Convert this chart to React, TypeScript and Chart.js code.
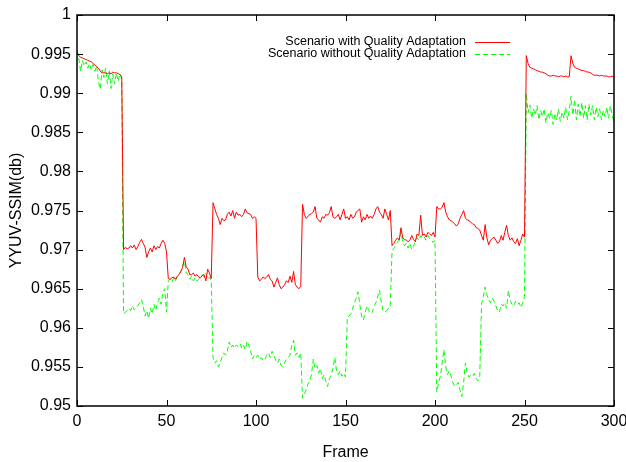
import { useEffect, useRef } from 'react';
import Chart from 'chart.js/auto';

const FONT = '"Liberation Sans", Arial, Helvetica, sans-serif';

const X_TICKS = [0, 50, 100, 150, 200, 250, 300];
const Y_MIN = 0.95;
const Y_MAX = 1;
const Y_STEP = 0.005;
const X_TITLE = 'Frame';
const Y_TITLE = 'YYUV-SSIM(db)';

const LABEL_WITH = 'Scenario with Quality Adaptation';
const LABEL_WITHOUT = 'Scenario without Quality Adaptation';

const FRAME_COUNT = 301;

const WITH_QA = [
  0.9952, 0.9948, 0.9946, 0.9945, 0.9944, 0.9943, 0.9942, 0.9941, 0.9940, 0.9938,
  0.9936, 0.9934, 0.9932, 0.9928, 0.9926, 0.9926, 0.9926, 0.9925, 0.9926, 0.9925,
  0.9927, 0.9926, 0.9926, 0.9925, 0.9924, 0.9921, 0.9700, 0.9703, 0.9701, 0.9702,
  0.9705, 0.9702, 0.9706, 0.9700, 0.9704, 0.9709, 0.9713, 0.9708, 0.9703, 0.9690,
  0.9697, 0.9702, 0.9697, 0.9705, 0.9700, 0.9704, 0.9702, 0.9708, 0.9712, 0.9708,
  0.9697, 0.9663, 0.9662, 0.9664, 0.9665, 0.9662, 0.9666, 0.9668, 0.9672, 0.9677,
  0.9690, 0.9678, 0.9675, 0.9668, 0.9668, 0.9670, 0.9666, 0.9668, 0.9665, 0.9664,
  0.9667, 0.9668, 0.9660, 0.9675, 0.9670, 0.9663, 0.9760, 0.9752, 0.9745, 0.9740,
  0.9732, 0.9740, 0.9737, 0.9738, 0.9745, 0.9748, 0.9743, 0.9750, 0.9740, 0.9748,
  0.9744, 0.9745, 0.9742, 0.9745, 0.9752, 0.9747, 0.9746, 0.9745, 0.9740, 0.9742,
  0.9740, 0.9665, 0.9660, 0.9662, 0.9665, 0.9663, 0.9665, 0.9668, 0.9662, 0.9660,
  0.9652, 0.9658, 0.9664, 0.9655, 0.9650, 0.9652, 0.9655, 0.9660, 0.9658, 0.9666,
  0.9658, 0.9672, 0.9655, 0.9652, 0.9650, 0.9653, 0.9758, 0.9745, 0.9740, 0.9742,
  0.9745, 0.9746, 0.9748, 0.9755, 0.9740, 0.9738, 0.9735, 0.9742, 0.9740, 0.9745,
  0.9744, 0.9747, 0.9755, 0.9742, 0.9740, 0.9742, 0.9745, 0.9738, 0.9745, 0.9752,
  0.9740, 0.9742, 0.9738, 0.9745, 0.9740, 0.9742, 0.9748, 0.9750, 0.9752, 0.9735,
  0.9742, 0.9738, 0.9745, 0.9740, 0.9743, 0.9740, 0.9745, 0.9752, 0.9755, 0.9748,
  0.9745, 0.9740, 0.9752, 0.9745, 0.9738, 0.9750, 0.9705, 0.9708, 0.9712, 0.9715,
  0.9712, 0.9728, 0.9715, 0.9713, 0.9712, 0.9710, 0.9712, 0.9718, 0.9713, 0.9710,
  0.9720, 0.9718, 0.9744, 0.9718, 0.9720, 0.9716, 0.9722, 0.9720, 0.9718, 0.9722,
  0.9716, 0.9755, 0.9752, 0.9752, 0.9754, 0.9760, 0.9748, 0.9742, 0.9738, 0.9737,
  0.9735, 0.9733, 0.9730, 0.9733, 0.9740, 0.9745, 0.9750, 0.9740, 0.9738, 0.9737,
  0.9735, 0.9733, 0.9732, 0.9728, 0.9727, 0.9725, 0.9718, 0.9712, 0.9732, 0.9715,
  0.9706, 0.9712, 0.9714, 0.9716, 0.9712, 0.9708, 0.9710, 0.9718, 0.9712, 0.9722,
  0.9731, 0.9718, 0.9712, 0.9715, 0.9710, 0.9708, 0.9714, 0.9705, 0.9712, 0.9720,
  0.9716, 0.9948, 0.9938, 0.9933, 0.9932, 0.9931, 0.9930, 0.9929, 0.9928, 0.9927,
  0.9927, 0.9926, 0.9925, 0.9923, 0.9922, 0.9922, 0.9923, 0.9922, 0.9922, 0.9921,
  0.9922, 0.9922, 0.9921, 0.9922, 0.9921, 0.9921, 0.9948, 0.9938, 0.9933, 0.9932,
  0.9931, 0.9930, 0.9929, 0.9929, 0.9928, 0.9927, 0.9927, 0.9926, 0.9924, 0.9923,
  0.9923, 0.9923, 0.9922, 0.9923, 0.9922, 0.9922, 0.9922, 0.9921, 0.9921, 0.9922, 0.9919,
];

const WITHOUT_QA = [
  0.9955, 0.9945, 0.9928, 0.9942, 0.9935, 0.9940, 0.9932, 0.9938, 0.9930, 0.9937,
  0.9928, 0.9935, 0.9915, 0.9905, 0.9930, 0.9920, 0.9932, 0.9912, 0.9928, 0.9906,
  0.9925, 0.9912, 0.9926, 0.9915, 0.9925, 0.9918, 0.9618, 0.9620, 0.9622, 0.9625,
  0.9622, 0.9628, 0.9623, 0.9625, 0.9628, 0.9632, 0.9636, 0.9628, 0.9615, 0.9622,
  0.9612, 0.9625, 0.9618, 0.9630, 0.9622, 0.9632, 0.9638, 0.9630, 0.9645, 0.9650,
  0.9620, 0.9660, 0.9662, 0.9658, 0.9664, 0.9660, 0.9665, 0.9668, 0.9672, 0.9680,
  0.9685, 0.9670, 0.9668, 0.9662, 0.9666, 0.9660, 0.9664, 0.9660, 0.9662, 0.9665,
  0.9668, 0.9665, 0.9670, 0.9662, 0.9665, 0.9660, 0.9562, 0.9555, 0.9558, 0.9550,
  0.9556, 0.9562, 0.9568, 0.9565, 0.9570, 0.9582, 0.9575, 0.9578, 0.9574, 0.9578,
  0.9576, 0.9580, 0.9574, 0.9578, 0.9572, 0.9583, 0.9578, 0.9570, 0.9560, 0.9565,
  0.9562, 0.9565, 0.9560, 0.9562, 0.9558, 0.9560, 0.9565, 0.9568, 0.9562, 0.9570,
  0.9565, 0.9558, 0.9555, 0.9560, 0.9552, 0.9550, 0.9556, 0.9560, 0.9562, 0.9565,
  0.9578, 0.9584, 0.9565, 0.9568, 0.9562, 0.9568, 0.9510, 0.9515, 0.9520, 0.9528,
  0.9532, 0.9540, 0.9560, 0.9548, 0.9552, 0.9542, 0.9548, 0.9535, 0.9540, 0.9532,
  0.9525, 0.9535, 0.9540, 0.9548, 0.9562, 0.9545, 0.9540, 0.9545, 0.9538, 0.9542,
  0.9537, 0.9613, 0.9615, 0.9618, 0.9625, 0.9632, 0.9638, 0.9646, 0.9630, 0.9615,
  0.9610, 0.9620, 0.9628, 0.9622, 0.9618, 0.9620, 0.9628, 0.9632, 0.9640, 0.9648,
  0.9632, 0.9621, 0.9620, 0.9622, 0.9625, 0.9628, 0.9698, 0.9702, 0.9705, 0.9710,
  0.9712, 0.9722, 0.9710, 0.9705, 0.9708, 0.9702, 0.9708, 0.9700, 0.9704, 0.9712,
  0.9715, 0.9712, 0.9718, 0.9714, 0.9716, 0.9712, 0.9718, 0.9714, 0.9712, 0.9709,
  0.9712, 0.9518, 0.9530, 0.9538, 0.9555, 0.9572, 0.9550, 0.9540, 0.9545, 0.9538,
  0.9530, 0.9525, 0.9528, 0.9530, 0.9520, 0.9512, 0.9530, 0.9555, 0.9542, 0.9537,
  0.9540, 0.9538, 0.9542, 0.9535, 0.9532, 0.9538, 0.9630, 0.9640, 0.9652, 0.9642,
  0.9636, 0.9632, 0.9638, 0.9634, 0.9628, 0.9622, 0.9620, 0.9630, 0.9628, 0.9632,
  0.9625, 0.9648, 0.9635, 0.9630, 0.9628, 0.9634, 0.9630, 0.9632, 0.9626, 0.9632,
  0.9640, 0.9900, 0.9875, 0.9885, 0.9868, 0.9880, 0.9872, 0.9884, 0.9866, 0.9878,
  0.9870, 0.9880, 0.9862, 0.9875, 0.9868, 0.9878, 0.9860, 0.9874, 0.9866, 0.9880,
  0.9864, 0.9876, 0.9868, 0.9882, 0.9866, 0.9878, 0.9896, 0.9872, 0.9892, 0.9866,
  0.9886, 0.9870, 0.9888, 0.9868, 0.9884, 0.9866, 0.9886, 0.9872, 0.9884, 0.9866,
  0.9882, 0.9870, 0.9880, 0.9866, 0.9878, 0.9870, 0.9882, 0.9868, 0.9884, 0.9872, 0.9862,
];

const FRAMES = Array.from({ length: FRAME_COUNT }, (_, i) => i);

const gnuplotFrame = {
  id: 'gnuplotFrame',
  afterDatasetsDraw(chart: any) {
    const { ctx, chartArea, scales } = chart;
    const { left, right, top, bottom } = chartArea;
    const line = (x1: number, y1: number, x2: number, y2: number) => {
      ctx.beginPath();
      ctx.moveTo(x1, y1);
      ctx.lineTo(x2, y2);
      ctx.stroke();
    };
    ctx.save();
    ctx.strokeStyle = '#000';
    ctx.setLineDash([]);
    ctx.lineWidth = 1;
    const tl = 6;
    scales.x.ticks.forEach((t: any) => {
      const px = Math.round(scales.x.getPixelForValue(t.value)) + 0.5;
      line(px, bottom, px, bottom - tl);
      line(px, top, px, top + tl);
    });
    scales.y.ticks.forEach((t: any) => {
      const py = Math.round(scales.y.getPixelForValue(t.value)) + 0.5;
      line(left, py, left + tl, py);
      line(right, py, right - tl, py);
    });
    ctx.lineWidth = 1.5;
    ctx.strokeRect(left, top, right - left, bottom - top);

    // y axis title, centred on the plot area
    ctx.save();
    ctx.translate(17, (top + bottom) / 2);
    ctx.rotate(-Math.PI / 2);
    ctx.font = '16px ' + FONT;
    ctx.textAlign = 'center';
    ctx.textBaseline = 'middle';
    ctx.fillStyle = '#000';
    ctx.fillText(Y_TITLE, 0, 0);
    ctx.restore();

    // key (legend), gnuplot style
    ctx.font = '12.5px ' + FONT;
    ctx.textAlign = 'right';
    ctx.textBaseline = 'middle';
    ctx.fillStyle = '#000';
    chart.data.datasets.forEach((ds: any, i: number) => {
      const y = 42 + i * 12;
      ctx.fillText(ds.label, 466, y);
      ctx.strokeStyle = ds.borderColor;
      ctx.lineWidth = 1;
      ctx.setLineDash(ds.borderDash || []);
      line(475, y + 0.5, 510, y + 0.5);
    });
    ctx.restore();
  },
};

export default function App() {
  const ref = useRef<HTMLCanvasElement | null>(null);

  useEffect(() => {
    if (!ref.current) return;
    const chart = new Chart(ref.current, {
      type: 'line',
      data: {
        datasets: [
          {
            label: LABEL_WITH,
            data: FRAMES.map((f, i) => ({ x: f, y: WITH_QA[i] })),
            borderColor: '#ff0000',
            borderWidth: 1,
            pointRadius: 0,
            tension: 0,
            fill: false,
          },
          {
            label: LABEL_WITHOUT,
            data: FRAMES.map((f, i) => ({ x: f, y: WITHOUT_QA[i] })),
            borderColor: '#00ff00',
            borderWidth: 1,
            borderDash: [5, 3],
            pointRadius: 0,
            tension: 0,
            fill: false,
          },
        ],
      },
      options: {
        animation: false,
        responsive: false,
        devicePixelRatio: 1,
        layout: { padding: { left: 0, right: 12, top: 15, bottom: 0 } },
        plugins: { legend: { display: false }, tooltip: { enabled: false } },
        scales: {
          x: {
            type: 'linear',
            min: X_TICKS[0],
            max: X_TICKS[X_TICKS.length - 1],
            grid: { display: false, drawTicks: false },
            border: { display: false },
            afterBuildTicks: (s: any) => {
              s.ticks = X_TICKS.map((v) => ({ value: v }));
            },
            ticks: {
              padding: 6,
              color: '#000',
              font: { family: FONT, size: 16 },
              maxRotation: 0,
            },
            title: {
              display: true,
              text: X_TITLE,
              color: '#000',
              font: { family: FONT, size: 16 },
              padding: { top: 0, bottom: 0 },
            },
            afterFit: (s: any) => {
              s.height = 56;
              s.paddingLeft = 0;
              s.paddingRight = 0;
            },
          },
          y: {
            type: 'linear',
            min: Y_MIN,
            max: Y_MAX,
            grid: { display: false, drawTicks: false },
            border: { display: false },
            ticks: {
              stepSize: Y_STEP,
              padding: 6,
              color: '#000',
              font: { family: FONT, size: 16 },
              callback: (v: any) => String(+Number(v).toFixed(3)),
            },
            title: { display: false, text: Y_TITLE },
            afterFit: (s: any) => {
              s.width = 77;
              s.paddingTop = 0;
              s.paddingBottom = 0;
            },
          },
        },
      },
      plugins: [gnuplotFrame],
    });
    return () => chart.destroy();
  }, []);

  return (
    <div style={{ position: 'absolute', left: 0, top: 0, width: 626, height: 462, background: '#fff' }}>
      <canvas ref={ref} width={626} height={462} style={{ width: 626, height: 462, display: 'block' }} />
    </div>
  );
}
